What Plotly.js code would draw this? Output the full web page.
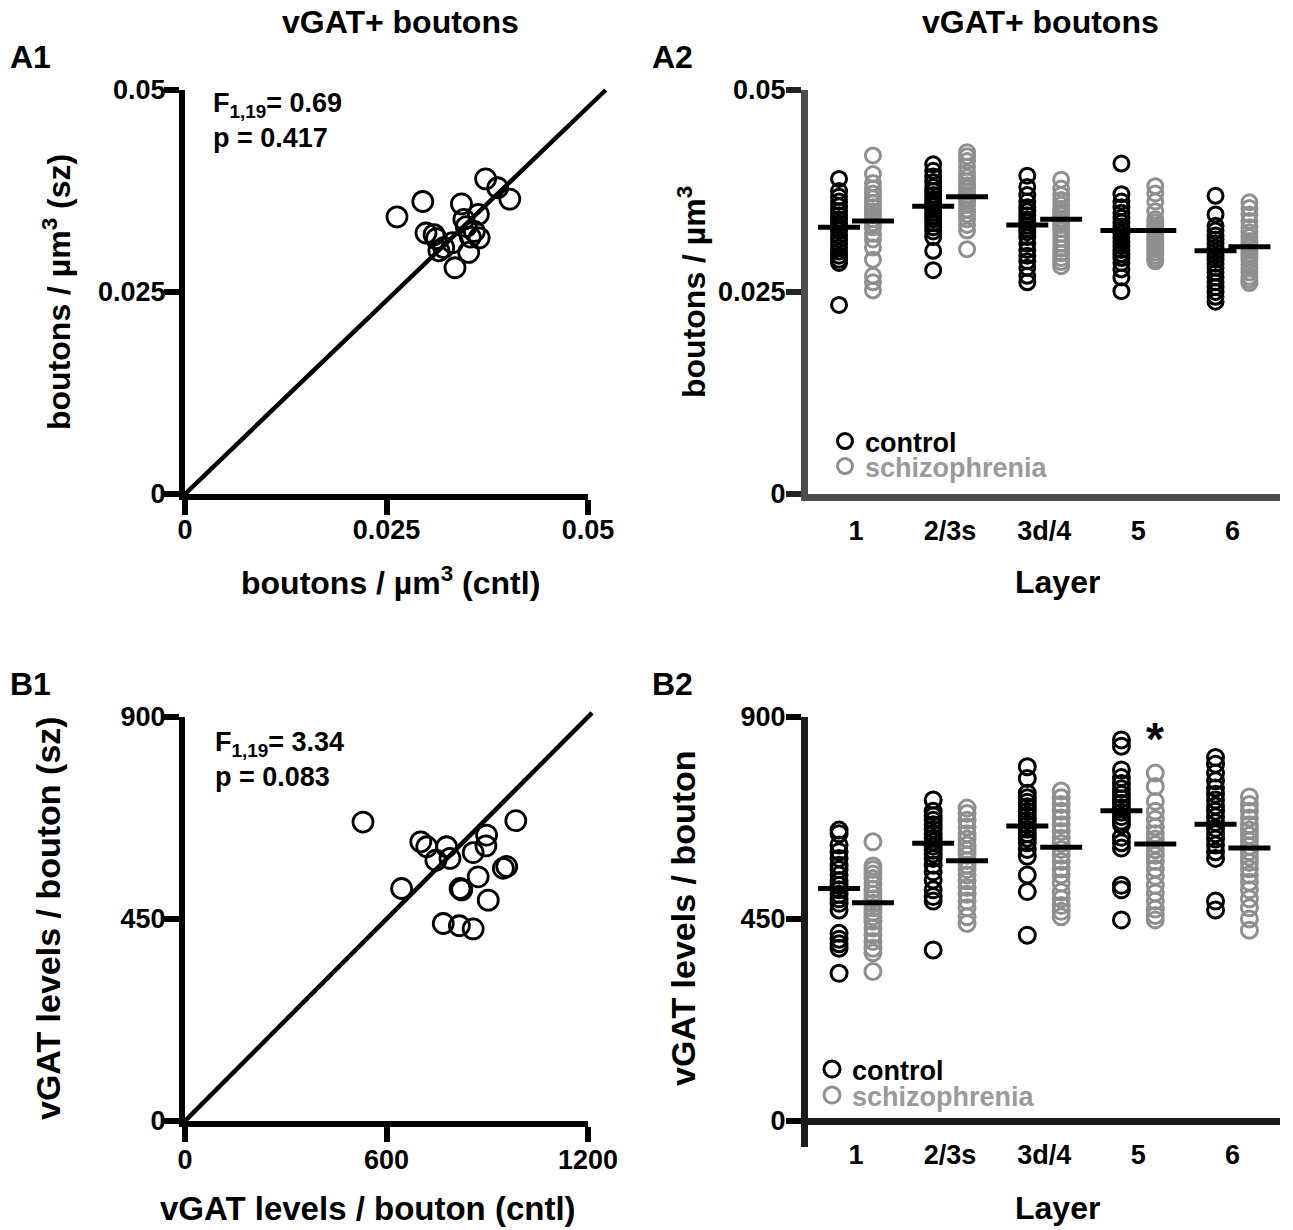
<!DOCTYPE html>
<html>
<head>
<meta charset="utf-8">
<script src="https://cdn.plot.ly/plotly-3.0.1.min.js"></script>
<style>html,body{margin:0;padding:0;background:#fff;}#chart{width:1293px;height:1230px;}</style>
</head>
<body>
<div id="chart"></div>
<script>
// ---------- DATA ----------
// A1: vGAT+ bouton density, control (x) vs schizophrenia (y) pairs
const a1Cntl = [0.0373,0.0388,0.0403,0.0295,0.0263,0.0343,0.0364,0.0346,0.0299,0.0309,0.0312,0.0359,0.0365,0.0354,0.0332,0.0321,0.0315,0.0352,0.0335,0.0349];
const a1Sz   = [0.0390,0.0379,0.0365,0.0362,0.0343,0.0359,0.0346,0.0340,0.0323,0.0321,0.0316,0.0325,0.0317,0.0318,0.0311,0.0305,0.0301,0.0299,0.0280,0.0331];
const a1Diag = [0, 0.0522];
const a1DiagY = [0, 0.05];

// B1: vGAT levels per bouton, control (x) vs schizophrenia (y)
const b1Cntl = [985,702,720,779,789,747,858,898,896,948,958,873,819,824,903,645,769,817,858,530];
const b1Sz   = [669,622,611,611,585,581,598,637,613,563,567,544,518,515,492,518,440,435,428,666];
const b1Diag = [0, 1212];
const b1DiagY = [0, 909];

// Layer categories
const layers = ['1','2/3s','3d/4','5','6'];

// A2: boutons / µm3 by layer
const a2Control = [
  [0.0390,0.0375,0.0368,0.0362,0.0356,0.0350,0.0345,0.0340,0.0335,0.0330,0.0326,0.0320,0.0315,0.0310,0.0305,0.0300,0.0295,0.0290,0.0286,0.0234],
  [0.0408,0.0400,0.0393,0.0386,0.0380,0.0375,0.0370,0.0365,0.0360,0.0356,0.0352,0.0348,0.0344,0.0340,0.0335,0.0330,0.0325,0.0318,0.0301,0.0277],
  [0.0394,0.0380,0.0370,0.0362,0.0355,0.0350,0.0345,0.0340,0.0336,0.0332,0.0328,0.0324,0.0318,0.0310,0.0302,0.0295,0.0288,0.0280,0.0270,0.0262],
  [0.0409,0.0371,0.0362,0.0355,0.0348,0.0342,0.0336,0.0331,0.0327,0.0322,0.0317,0.0312,0.0307,0.0302,0.0297,0.0292,0.0286,0.0278,0.0268,0.0251],
  [0.0369,0.0346,0.0332,0.0326,0.0320,0.0315,0.0310,0.0305,0.0300,0.0295,0.0290,0.0285,0.0280,0.0274,0.0268,0.0262,0.0256,0.0250,0.0244,0.0238]
];
const a2Sz = [
  [0.0419,0.0396,0.0385,0.0378,0.0372,0.0366,0.0360,0.0355,0.0350,0.0345,0.0340,0.0335,0.0330,0.0322,0.0315,0.0305,0.0290,0.0270,0.0262,0.0252],
  [0.0423,0.0418,0.0412,0.0405,0.0398,0.0392,0.0387,0.0382,0.0378,0.0374,0.0370,0.0366,0.0362,0.0358,0.0352,0.0346,0.0340,0.0333,0.0326,0.0303],
  [0.0389,0.0378,0.0370,0.0364,0.0358,0.0353,0.0349,0.0345,0.0341,0.0337,0.0333,0.0328,0.0322,0.0316,0.0310,0.0304,0.0298,0.0292,0.0287,0.0282],
  [0.0381,0.0372,0.0362,0.0350,0.0340,0.0336,0.0332,0.0329,0.0326,0.0323,0.0320,0.0317,0.0314,0.0311,0.0307,0.0303,0.0299,0.0295,0.0291,0.0288],
  [0.0361,0.0354,0.0346,0.0338,0.0330,0.0324,0.0318,0.0313,0.0309,0.0305,0.0301,0.0297,0.0293,0.0289,0.0284,0.0279,0.0274,0.0269,0.0265,0.0261]
];
const a2ControlMean = [0.0330,0.0356,0.0333,0.0326,0.0301];
const a2SzMean      = [0.0338,0.0368,0.0340,0.0326,0.0306];

// B2: vGAT levels / bouton by layer
const b2Control = [
  [648,640,615,600,585,570,560,548,535,525,515,505,495,485,470,418,405,395,385,329],
  [715,690,680,670,660,650,640,630,622,612,603,595,585,570,555,537,515,500,490,381],
  [789,763,730,720,710,700,690,680,670,660,650,640,630,620,605,590,548,511,414],
  [849,835,782,765,752,740,728,718,708,698,688,678,668,660,632,620,608,525,515,448],
  [810,795,775,758,742,728,715,702,690,678,665,652,640,628,615,600,585,490,470]
];
const b2Sz = [
  [622,568,560,550,540,528,516,505,495,485,475,465,455,445,430,415,400,385,375,333],
  [697,685,670,655,640,628,615,603,592,580,570,560,548,535,520,505,490,475,455,440],
  [735,720,705,690,675,660,645,630,618,605,592,578,562,548,530,510,495,480,467,455],
  [775,745,712,690,672,655,640,628,616,604,592,578,562,545,525,508,490,472,458,448],
  [722,705,690,675,660,648,636,624,612,600,588,576,562,548,532,515,495,475,450,425]
];
const b2ControlMean = [518,619,657,691,661];
const b2SzMean      = [486,580,610,617,608];

// ---------- STYLE ----------
const W = 1293, H = 1230;
const px = v => v / W;
const py = v => 1 - v / H;
const FONT = 'Liberation Sans, Arial, Helvetica, sans-serif';
const BLACK = '#000000';
const GREY = '#8f8f8f';
const OFF = 0.18;

function strip(groups, offset) {
  const xs = [], ys = [];
  groups.forEach((vals, i) => vals.forEach(v => { xs.push(i + 1 + offset); ys.push(v); }));
  return {xs, ys};
}
function meanXs(means, offset) { return means.map((m, i) => i + 1 + offset); }

const traces = [];
// A1
traces.push({x: a1Diag, y: a1DiagY, xaxis: 'x5', yaxis: 'y5', mode: 'lines', line: {color: BLACK, width: 4.5}, showlegend: false, hoverinfo: 'skip'});
traces.push({x: a1Cntl, y: a1Sz, xaxis: 'x', yaxis: 'y', mode: 'markers', marker: {symbol: 'circle-open', size: 20, color: BLACK, line: {width: 2.8, color: BLACK}}, showlegend: false, cliponaxis: false});
// B1
traces.push({x: b1Diag, y: b1DiagY, xaxis: 'x6', yaxis: 'y6', mode: 'lines', line: {color: BLACK, width: 4.5}, showlegend: false, hoverinfo: 'skip'});
traces.push({x: b1Cntl, y: b1Sz, xaxis: 'x3', yaxis: 'y3', mode: 'markers', marker: {symbol: 'circle-open', size: 20, color: BLACK, line: {width: 2.8, color: BLACK}}, showlegend: false, cliponaxis: false});

function addStrips(ctl, sz, ctlMean, szMean, xa, ya, legCtl, legSz, msize) {
  const c = strip(ctl, -OFF), s = strip(sz, OFF);
  traces.push({x: c.xs, y: c.ys, xaxis: xa, yaxis: ya, mode: 'markers', name: 'control', legend: legCtl,
    marker: {symbol: 'circle-open', size: msize, color: BLACK, line: {width: 3, color: BLACK}}, cliponaxis: false});
  traces.push({x: s.xs, y: s.ys, xaxis: xa, yaxis: ya, mode: 'markers', name: '<span style="color:#9a9a9a">schizophrenia</span>', legend: legSz,
    marker: {symbol: 'circle-open', size: msize, color: GREY, line: {width: 3, color: GREY}}, cliponaxis: false});
  traces.push({x: meanXs(ctlMean, -OFF), y: ctlMean, xaxis: xa, yaxis: ya, mode: 'markers', showlegend: false,
    marker: {symbol: 'line-ew', size: 30, color: BLACK, line: {width: 5, color: BLACK}}, cliponaxis: false});
  traces.push({x: meanXs(szMean, OFF), y: szMean, xaxis: xa, yaxis: ya, mode: 'markers', showlegend: false,
    marker: {symbol: 'line-ew', size: 30, color: BLACK, line: {width: 5, color: BLACK}}, cliponaxis: false});
}
addStrips(a2Control, a2Sz, a2ControlMean, a2SzMean, 'x2', 'y2', 'legend', 'legend2', 15);
addStrips(b2Control, b2Sz, b2ControlMean, b2SzMean, 'x4', 'y4', 'legend3', 'legend4', 16);

const tickFont = {family: FONT, size: 27, color: BLACK, weight: 700};
function axis(extra) {
  return Object.assign({showgrid: false, zeroline: false, showline: true, linecolor: BLACK, linewidth: 6,
    ticks: 'outside', ticklen: 15, tickwidth: 6, tickcolor: BLACK, tickfont: tickFont, fixedrange: true}, extra);
}
const hidden = (extra) => Object.assign({visible: false, showgrid: false, zeroline: false, fixedrange: true}, extra);

const ann = [];
function txt(text, x, y, size, opts) {
  ann.push(Object.assign({text, x: px(x), y: py(y), xref: 'paper', yref: 'paper', showarrow: false,
    xanchor: 'center', yanchor: 'middle',
    font: {family: FONT, size, color: BLACK, weight: 700}}, opts || {}));
}
txt('vGAT+ boutons', 400, 22, 32);
txt('vGAT+ boutons', 1040, 22, 32);
txt('A1', 8, 57, 32, {xanchor: 'left'});
txt('A2', 650, 57, 32, {xanchor: 'left'});
txt('B1', 8, 684, 32, {xanchor: 'left'});
txt('B2', 650, 684, 32, {xanchor: 'left'});
txt('boutons / µm<sup>3</sup> (cntl)', 390, 581, 32);
txt('Layer', 1057, 582, 32);
txt('vGAT levels / bouton (cntl)', 368, 1208, 33);
txt('Layer', 1057, 1208, 32);
txt('boutons / µm<sup>3</sup> (sz)', 57, 292, 32, {textangle: -90});
txt('boutons / µm<sup>3</sup>', 692, 292, 32, {textangle: -90});
txt('vGAT levels / bouton (sz)', 48, 918, 34, {textangle: -90});
txt('vGAT levels / bouton', 683, 918, 34, {textangle: -90});
txt('F<sub>1,19</sub>= 0.69<br>p = 0.417', 211, 86, 27, {xanchor: 'left', yanchor: 'top', align: 'left'});
txt('F<sub>1,19</sub>= 3.34<br>p = 0.083', 213, 725, 27, {xanchor: 'left', yanchor: 'top', align: 'left'});
ann.push({text: '*', x: 4 + OFF, y: 852, xref: 'x4', yref: 'y4', showarrow: false, xanchor: 'center', yanchor: 'middle',
  font: {family: FONT, size: 46, color: BLACK, weight: 700}});

const legendBase = {bgcolor: 'rgba(0,0,0,0)', borderwidth: 0, font: {family: FONT, size: 27, color: BLACK, weight: 700},
  itemsizing: 'trace', xanchor: 'left', yanchor: 'top', tracegroupgap: 0, itemclick: false, itemdoubleclick: false};
const leg = (x, y) => Object.assign({x: px(x), y: py(y)}, legendBase);

const layout = {
  width: W, height: H,
  margin: {l: 0, r: 0, t: 0, b: 0},
  paper_bgcolor: '#ffffff', plot_bgcolor: 'rgba(0,0,0,0)',
  font: {family: FONT, color: BLACK},
  hovermode: false,
  xaxis: axis({domain: [px(185), px(588)], range: [0, 0.05], anchor: 'y', tickvals: [0, 0.025, 0.05], ticktext: ['0', '0.025', '0.05'], ticklabelstandoff: -8}),
  yaxis: axis({domain: [py(494), py(90)], range: [0, 0.05], anchor: 'x', tickvals: [0, 0.025, 0.05], ticktext: ['0', '0.025', '0.05'], ticklabelstandoff: -7}),
  xaxis2: axis({domain: [px(808), px(1280)], range: [0.49, 5.505], anchor: 'y2', tickvals: [1, 2, 3, 4, 5], ticktext: layers, ticks: '', linecolor: '#4d4d4d', linewidth: 7, ticklabelstandoff: 7}),
  yaxis2: axis({domain: [py(494), py(90)], range: [0, 0.05], anchor: 'x2', tickvals: [0, 0.025, 0.05], ticktext: ['0', '0.025', '0.05'], linecolor: '#4d4d4d', linewidth: 7, tickcolor: '#222222', ticklabelstandoff: -5}),
  xaxis3: axis({domain: [px(185), px(588)], range: [0, 1200], anchor: 'y3', tickvals: [0, 600, 1200], ticktext: ['0', '600', '1200'], ticklabelstandoff: -5}),
  yaxis3: axis({domain: [py(1121), py(717)], range: [0, 900], anchor: 'x3', tickvals: [0, 450, 900], ticktext: ['0', '450', '900'], ticklabelstandoff: -7}),
  xaxis4: axis({domain: [px(808), px(1280)], range: [0.49, 5.505], anchor: 'free', position: py(1121), tickvals: [1, 2, 3, 4, 5], ticktext: layers, ticks: '', linecolor: '#1a1a1a', linewidth: 7, ticklabelstandoff: 7}),
  yaxis4: axis({domain: [py(1147), py(717)], range: [-57.92, 900], anchor: 'x4', tickvals: [0, 450, 900], ticktext: ['0', '450', '900'], linecolor: '#1a1a1a', linewidth: 7, ticklabelstandoff: -5}),
  xaxis5: hidden({domain: [px(185), px(620)], range: [0, 0.05 * 435 / 403], anchor: 'y5'}),
  yaxis5: hidden({domain: [py(494), py(80)], range: [0, 0.05 * 414 / 404], anchor: 'x5'}),
  xaxis6: hidden({domain: [px(185), px(620)], range: [0, 1200 * 435 / 403], anchor: 'y6'}),
  yaxis6: hidden({domain: [py(1121), py(700)], range: [0, 900 * 421 / 404], anchor: 'x6'}),
  legend: leg(825, 417),
  legend2: leg(825, 442),
  legend3: leg(812, 1045),
  legend4: leg(812, 1071),
  annotations: ann
};

Plotly.newPlot('chart', traces, layout, {staticPlot: true, displayModeBar: false});
</script>
</body>
</html>
